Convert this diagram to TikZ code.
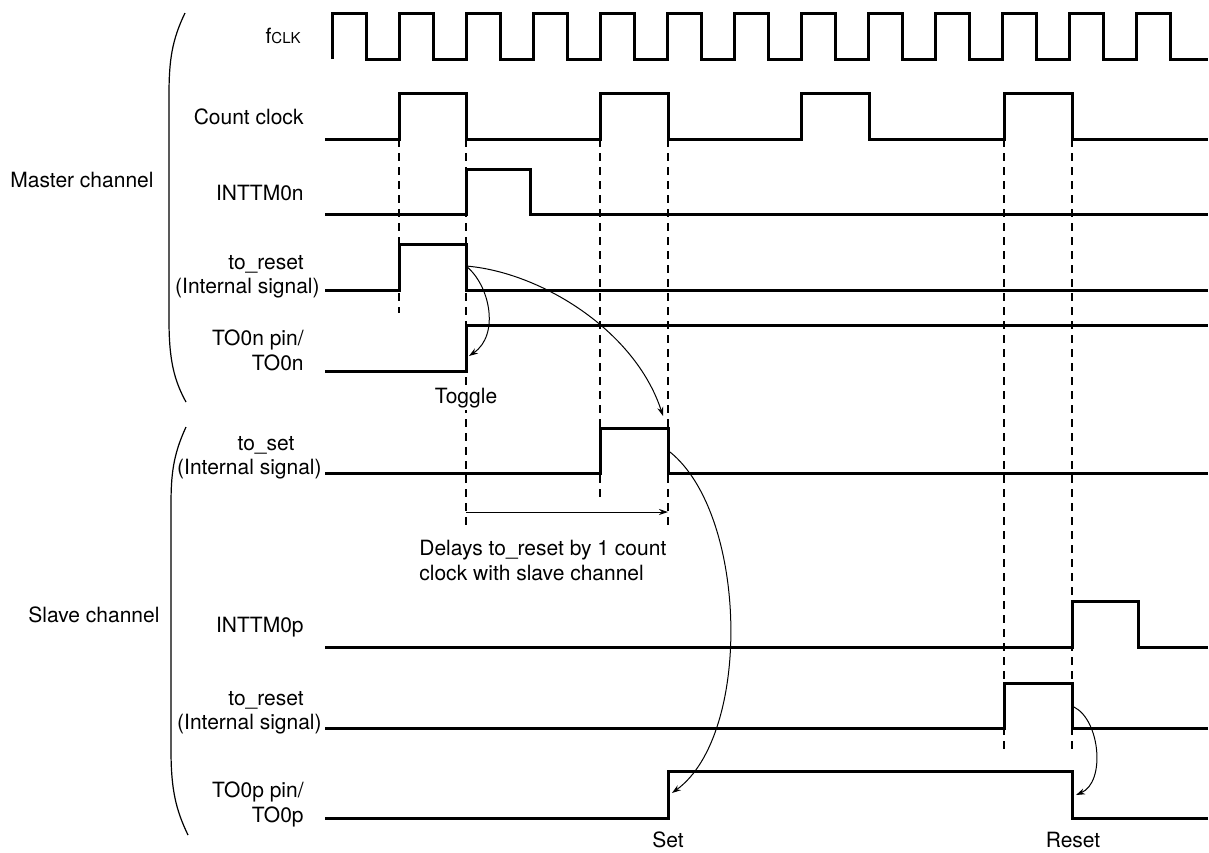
\documentclass[tikz,border=0pt]{standalone}
\usepackage{fontspec}
\setmainfont{TeX Gyre Heros}
\usetikzlibrary{arrows.meta, positioning}

\begin{document}
\begin{tikzpicture}[x=0.5pt, y=-0.5pt, >={Stealth[length=4.5pt,width=3pt]},
    font=\fontsize{10.5}{12.5}\selectfont,
    wave/.style={line width=1.5pt, line join=miter},
    guide/.style={line width=0.6pt, dash pattern=on 4pt off 3pt},
    cause/.style={->, line width=0.5pt},
    lbl/.style={inner sep=0pt, anchor=base east},
    brack/.style={line width=0.6pt}]
	\useasboundingbox (0,0) rectangle (1209,852);
	
	% timing guides
	\draw[guide] (399,139) -- (399,313);
	\draw[guide] (466,139) -- (466,527);
	\draw[guide] (600,139) -- (600,497);
	\draw[guide] (668,139) -- (668,528);
	\draw[guide] (1004,139) -- (1004,752);
	\draw[guide] (1072,139) -- (1072,752);
	
	% master channel
	\node[lbl, anchor=base west] (master) at (10,187) {Master channel};
	\draw[brack] (185,13) .. controls (172,40) and (169,60) .. (169,95) -- (169,320) .. controls (169,360) and (174,380) .. (186,402);
	\node[lbl] (fclk) at (301,43) {f{\fontsize{7.5}{9}\selectfont CLK}};
	\node[lbl] (cntclk) at (304,124) {Count clock};
	\node[lbl] (inttmn) at (304,200) {INTTM0n};
	\node[inner sep=0pt, anchor=base] (mrst) at (266,269) {to\_reset};
	\node[lbl] (mrstsig) at (320,293) {(Internal signal)};
	\node[lbl] (toutn) at (304,345) {TO0n pin/};
	\node[lbl] (toutnb) at (304,370) {TO0n};
	
	\draw[wave] (332,59) \foreach \k in {0,...,12} {-- ++(0,-46) -- ++(34,0) -- ++(0,46) -- ++(33,0)} -- (1208,59);
	\draw[wave] (325,139) -- (399,139) |- (466,93) |- (600,139) |- (668,93) |- (801,139) |- (869,93) |- (1004,139) |- (1072,93) |- (1208,139);
	\draw[wave] (325,214) -- (466,214) |- (530,169) |- (1208,214);
	\draw[wave] (325,290) -- (399,290) |- (466,244) |- (1208,290);
	\draw[wave] (325,371) -- (466,371) |- (1208,325);
	
	% slave channel
	\node[lbl, anchor=base west] (slave) at (28,622) {Slave channel};
	\draw[brack] (186,427) .. controls (173,455) and (171,475) .. (171,505) -- (171,750) .. controls (171,790) and (176,810) .. (188,835);
	\node[inner sep=0pt, anchor=base] (sset) at (266,450) {to\_set};
	\node[lbl] (ssetsig) at (322,474) {(Internal signal)};
	\node[lbl] (inttmp) at (304,632) {INTTM0p};
	\node[inner sep=0pt, anchor=base] (srst) at (266,705) {to\_reset};
	\node[lbl] (srstsig) at (322,729) {(Internal signal)};
	\node[lbl] (toutp) at (304,797) {TO0p pin/};
	\node[lbl] (toutpb) at (304,822) {TO0p};
	
	\draw[wave] (325,473) -- (600,473) |- (668,428) |- (1208,473);
	\draw[wave] (325,647) -- (1072,647) |- (1138,601) |- (1208,647);
	\draw[wave] (325,728) -- (1004,728) |- (1072,683) |- (1208,728);
	\draw[wave] (325,818) -- (668,818) |- (1072,771) |- (1208,818);
	
	% events
	\node[anchor=base, fill=white, inner sep=1pt] (toggle) at (466,403) {Toggle};
	\node[anchor=base, inner sep=0pt] (set) at (668,847) {Set};
	\node[anchor=base, inner sep=0pt] (reset) at (1073,847) {Reset};
	\node[anchor=base west, inner sep=0pt] (delay) at (419,555) {Delays to\_reset by 1 count};
	\node[anchor=base west, inner sep=0pt] (delayb) at (419,580) {clock with slave channel};
	
	\coordinate (mfall) at (466,266);
	\coordinate (ntog) at (469,356);
	\coordinate (sethi) at (663,416);
	\coordinate (setfall) at (670,452);
	\coordinate (pset) at (672,793);
	\coordinate (rfall) at (1074,707);
	\coordinate (preset) at (1076,795);
	\coordinate (dlya) at (466,512);
	\coordinate (dlyb) at (668,512);
	
	\draw[cause] (mfall) .. controls (490,285) and (500,335) .. (ntog);
	\draw[cause] (mfall) .. controls (540,272) and (635,330) .. (sethi);
	\draw[cause] (setfall) .. controls (748,515) and (752,735) .. (pset);
	\draw[cause] (rfall) .. controls (1100,720) and (1106,782) .. (preset);
	\draw[cause] (dlya) -- (dlyb);
\end{tikzpicture}
\end{document}
